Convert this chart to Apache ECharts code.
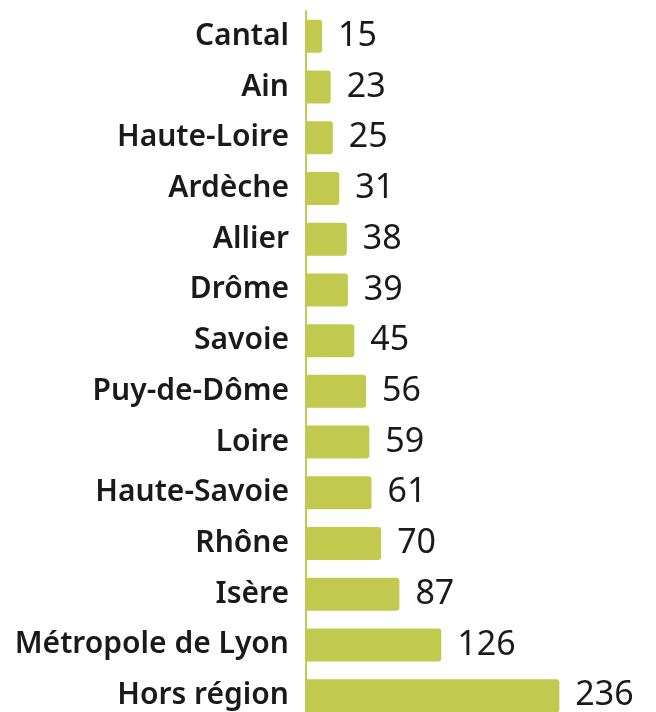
<!DOCTYPE html>
<html><head><meta charset="utf-8">
<script src="https://cdn.jsdelivr.net/npm/echarts@6/dist/echarts.min.js"></script>
<style>html,body{margin:0;padding:0;background:#fff}#c{width:656px;height:712px}</style>
</head><body><div id="c"></div>
<script>
const categories = ["Cantal","Ain","Haute-Loire","Ardèche","Allier","Drôme","Savoie","Puy-de-Dôme","Loire","Haute-Savoie","Rhône","Isère","Métropole de Lyon","Hors région"];
const values = [15,23,25,31,38,39,45,56,59,61,70,87,126,236];
const green = "#c2c94f";
const chart = echarts.init(document.getElementById('c'), null, {renderer:'canvas'});
chart.setOption({
  animation:false,
  grid:{left:306, right:0, top:11, height:710, containLabel:false, outerBoundsMode:'none'},
  xAxis:{type:'value', min:0, max:326, show:false},
  yAxis:{type:'category', data:categories, inverse:true,
    axisLine:{show:true, lineStyle:{color:green, width:2}},
    axisTick:{show:false},
    axisLabel:{margin:17, fontFamily:'Noto Sans', fontWeight:600, fontSize:30, color:'#1a1a1a', padding:[4,0,0,0]}
  },
  series:[{type:'bar', data:values, barWidth:33,
    itemStyle:{color:green, borderRadius:[0,3,3,0]},
    label:{show:true, position:'right', distance:16, fontFamily:'Noto Sans', fontSize:34, color:'#1a1a1a', padding:[4,0,0,0]}
  }]
});
</script></body></html>
